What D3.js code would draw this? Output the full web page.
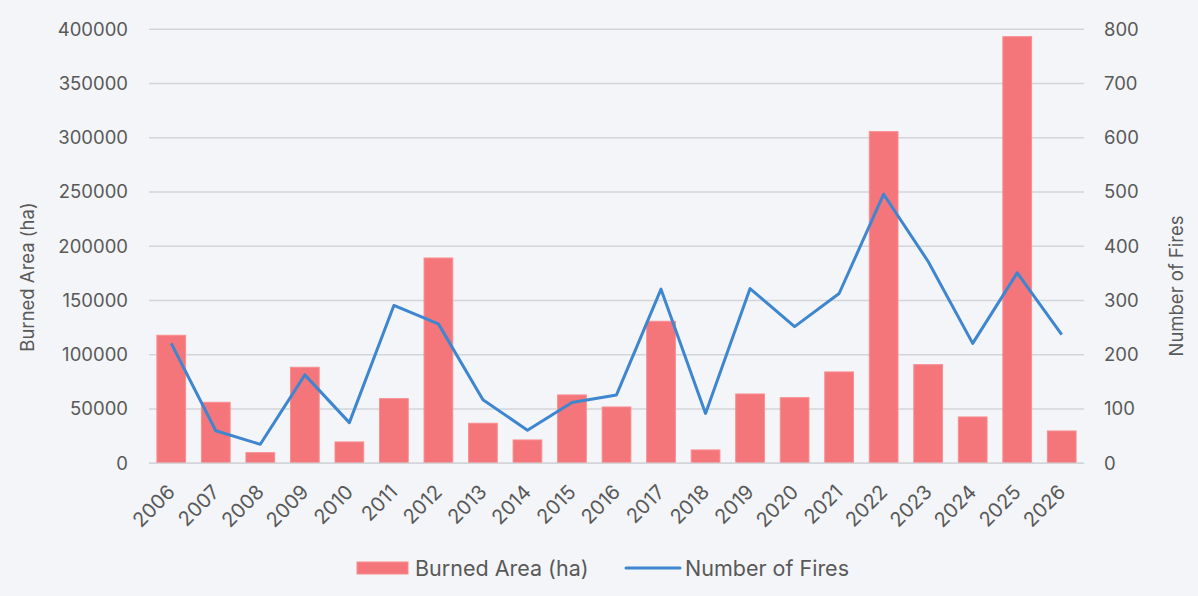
<!DOCTYPE html>
<html><head><meta charset="utf-8">
<script src="https://cdn.jsdelivr.net/npm/d3@7"></script>
<style>
html,body{margin:0;padding:0;background:#f3f5f8;}
svg{display:block;font-family:Inter,"Open Sans",sans-serif;}
</style></head>
<body>
<script>
const years = ["2006","2007","2008","2009","2010","2011","2012","2013","2014","2015","2016","2017","2018","2019","2020","2021","2022","2023","2024","2025","2026"];
const burnedArea = [118000,56200,9800,88500,19700,59600,189200,36900,21500,63000,51900,130900,12300,63900,60500,84200,305700,90900,42700,393200,29800];
const numFires = [221,60,35,163,75,291,257,117,61,112,126,321,92,322,252,313,496,372,221,351,237];
const leftTicks = [0,50000,100000,150000,200000,250000,300000,350000,400000];
const rightTicks = [0,100,200,300,400,500,600,700,800];

const W=1198,H=596;
const m={left:149,right:1084,top:29.3,bottom:463.3};
const textColor="#595959";
const svg=d3.select("body").append("svg").attr("width",W).attr("height",H);
svg.append("rect").attr("width",W).attr("height",H).attr("fill","#f3f5f8");

const x=d3.scaleBand().domain(years).range([m.left,m.right]).paddingInner(0.355).paddingOuter(0.1775);
const yL=d3.scaleLinear().domain([0,400000]).range([m.bottom,m.top]);
const yR=d3.scaleLinear().domain([0,800]).range([m.bottom,m.top]);

// gridlines
svg.append("g").selectAll("line").data(leftTicks).join("line")
  .attr("x1",m.left).attr("x2",m.right)
  .attr("y1",d=>yL(d)).attr("y2",d=>yL(d))
  .attr("stroke","#d3d5d9").attr("stroke-width",1.5);

// left axis
const gL=svg.append("g").attr("transform",`translate(${m.left-21},0)`)
  .call(d3.axisLeft(yL).tickValues(leftTicks).tickSize(0).tickPadding(0).tickFormat(d3.format("d")));
gL.select(".domain").remove();
gL.selectAll("text").attr("fill",textColor).style("font-size","18.5px").style("font-family","Inter,sans-serif");

// right axis
const gR=svg.append("g").attr("transform",`translate(${m.right+20},0)`)
  .call(d3.axisRight(yR).tickValues(rightTicks).tickSize(0).tickPadding(0).tickFormat(d3.format("d")));
gR.select(".domain").remove();
gR.selectAll("text").attr("fill",textColor).style("font-size","18.5px").style("font-family","Inter,sans-serif");

// bars
svg.append("g").selectAll("rect").data(years).join("rect")
  .attr("x",d=>x(d)).attr("width",x.bandwidth())
  .attr("y",(d,i)=>yL(burnedArea[i])).attr("height",(d,i)=>yL(0)-yL(burnedArea[i]))
  .attr("fill","#f4767a").attr("stroke","#f98d90").attr("stroke-width",1);

// baseline
svg.append("line").attr("x1",m.left).attr("x2",m.right).attr("y1",yL(0)).attr("y2",yL(0))
  .attr("stroke","#d3d5d9").attr("stroke-width",1.5);

// line
const line=d3.line().x((d,i)=>x(years[i])+x.bandwidth()/2).y(d=>yR(d));
svg.append("path").datum(numFires).attr("d",line).attr("fill","none")
  .attr("stroke","#3e86cf").attr("stroke-width",3).attr("stroke-linejoin","round");

// x axis labels
const gX=svg.append("g").attr("transform",`translate(0,${m.bottom})`)
  .call(d3.axisBottom(x).tickSize(0).tickPadding(0));
gX.select(".domain").remove();
gX.selectAll("text").attr("fill",textColor).style("font-size","20px").style("font-family","Inter,sans-serif")
  .attr("text-anchor","end").attr("dy","0")
  .attr("transform","translate(5,30) rotate(-45)");

// axis titles
svg.append("text").attr("transform","translate(34,277) rotate(-90)").attr("text-anchor","middle")
  .attr("fill",textColor).style("font-size","18.5px").text("Burned Area (ha)");
svg.append("text").attr("transform","translate(1183,286) rotate(-90)").attr("text-anchor","middle")
  .attr("fill",textColor).style("font-size","18.5px").text("Number of Fires");

// legend
const lg=svg.append("g");
lg.append("rect").attr("x",357).attr("y",562).attr("width",51).attr("height",12).attr("fill","#f4767a").attr("stroke","#f98d90");
lg.append("text").attr("x",415).attr("y",575.5).attr("fill",textColor).style("font-size","21.5px").text("Burned Area (ha)");
lg.append("line").attr("x1",626).attr("x2",680).attr("y1",568).attr("y2",568).attr("stroke","#3e86cf").attr("stroke-width",3).attr("stroke-linecap","round");
lg.append("text").attr("x",685).attr("y",575.5).attr("fill",textColor).style("font-size","21.5px").text("Number of Fires");
</script>
</body></html>
